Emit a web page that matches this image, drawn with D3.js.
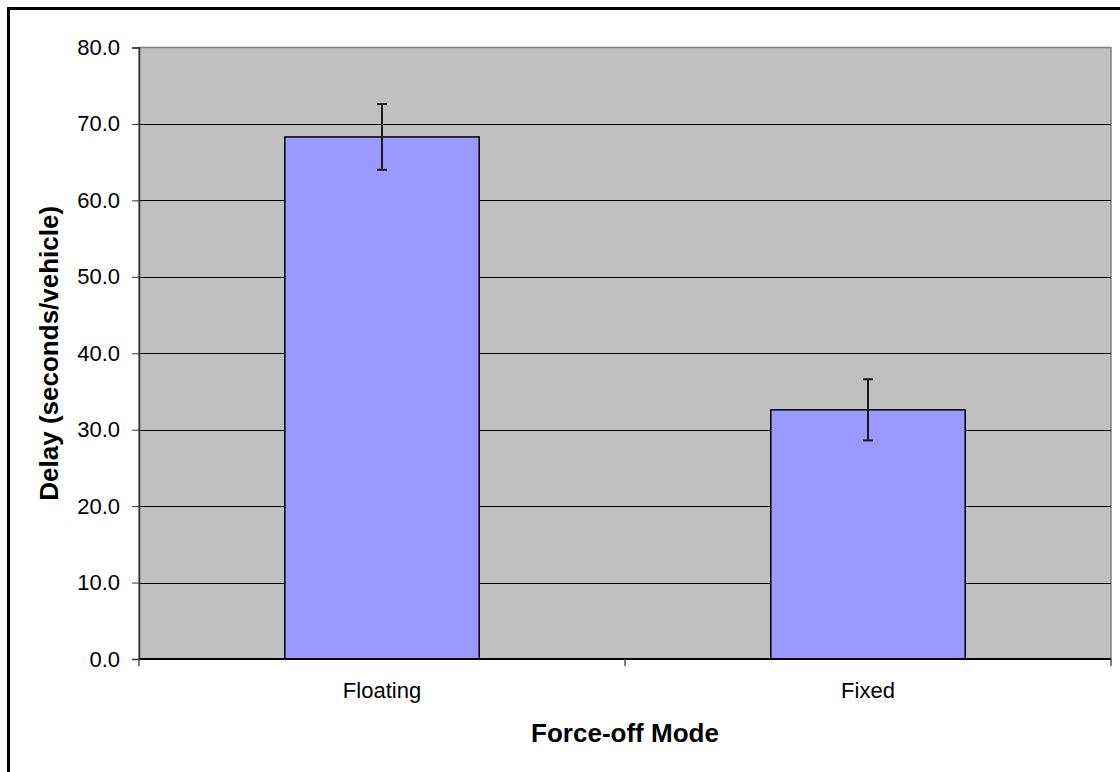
<!DOCTYPE html>
<html>
<head>
<meta charset="utf-8">
<script src="https://cdn.jsdelivr.net/npm/d3@7"></script>
<style>
  body { margin: 0; background: #fff; }
  text { font-family: "Liberation Sans", Arial, sans-serif; }
</style>
</head>
<body>
<div id="main"></div>
<script>

// chart data //
const modes = ['Floating', 'Fixed'];
const delays = [68.3, 32.6];       // seconds/vehicle
const errors = [4.3, 4.0];         // +/- error bar
const yTicks = [0, 10, 20, 30, 40, 50, 60, 70, 80];

const w = 1120;
const h = 772;

// plot area //  (plotTop, not top: window.top is taken)
const plotLeft = 139, plotRight = 1111, plotTop = 47.5, plotBottom = 659;

const svg = d3.select('#main')
            .append('svg')
            .attr('width', w)
            .attr('height', h);

// outer chart border (right and bottom fall outside the picture)
svg.append('rect')
    .attr('x', 8.5)
    .attr('y', 8.5)
    .attr('width', w + 20)
    .attr('height', h + 20)
    .attr('fill', 'none')
    .attr('stroke', '#000')
    .attr('stroke-width', 3);

const x = d3.scaleBand()
            .domain(modes)
            .range([plotLeft, plotRight])
            .paddingInner(0.6)
            .paddingOuter(0.3);

const y = d3.scaleLinear()
            .domain([0, 80])
            .range([plotBottom, plotTop]);

// grey plot background //
svg.append('rect')
    .attr('x', plotLeft)
    .attr('y', plotTop)
    .attr('width', plotRight - plotLeft)
    .attr('height', plotBottom - plotTop)
    .attr('fill', '#c0c0c0')
    .attr('stroke', '#808080')
    .attr('stroke-width', 1.5);

// gridlines
svg.append('g')
    .selectAll('line')
    .data(yTicks.filter(d => d > 0 && d < 80))
    .enter()
    .append('line')
    .attr('x1', plotLeft)
    .attr('x2', plotRight)
    .attr('y1', d => Math.round(y(d)) + 0.5)
    .attr('y2', d => Math.round(y(d)) + 0.5)
    .attr('stroke', '#000')
    .attr('stroke-width', 1);

// bars
svg.append('g')
    .selectAll('rect')
    .data(modes)
    .enter()
    .append('rect')
    .attr('x', d => x(d))
    .attr('y', (d, i) => y(delays[i]))
    .attr('width', x.bandwidth())
    .attr('height', (d, i) => y(0) - y(delays[i]))
    .attr('fill', '#9999ff')
    .attr('stroke', '#000')
    .attr('stroke-width', 1.5);

// error bars
const err = svg.append('g')
            .attr('stroke', '#1a1a1a')
            .attr('stroke-width', 2);

modes.forEach((m, i) => {
    const cx = x(m) + x.bandwidth() / 2;
    const hi = y(delays[i] + errors[i]);
    const lo = y(delays[i] - errors[i]);
    err.append('line').attr('x1', cx).attr('x2', cx).attr('y1', hi).attr('y2', lo);
    err.append('line').attr('x1', cx - 5).attr('x2', cx + 5).attr('y1', hi).attr('y2', hi);
    err.append('line').attr('x1', cx - 5).attr('x2', cx + 5).attr('y1', lo).attr('y2', lo);
});

// y axis
const yAxis = d3.axisLeft(y)
                .tickValues(yTicks)
                .tickFormat(d3.format('.1f'))
                .tickSize(7)
                .tickPadding(12);

const gy = svg.append('g')
            .attr('transform', `translate(${plotLeft},0)`)
            .call(yAxis);
gy.select('.domain').attr('stroke', '#333').attr('stroke-width', 1.5);
gy.selectAll('.tick line').attr('stroke', '#333');
gy.selectAll('.tick text')
    .attr('font-size', 22)
    .attr('fill', '#000')
    .style('font-family', '"Liberation Sans", Arial, sans-serif');

// x axis: ticks sit between categories
const xTickPos = d3.range(modes.length + 1).map(i => plotLeft + i * x.step());

svg.append('line')
    .attr('x1', plotLeft)
    .attr('x2', plotRight)
    .attr('y1', plotBottom)
    .attr('y2', plotBottom)
    .attr('stroke', '#000')
    .attr('stroke-width', 2);

svg.append('g')
    .selectAll('line')
    .data(xTickPos)
    .enter()
    .append('line')
    .attr('x1', d => d)
    .attr('x2', d => d)
    .attr('y1', plotBottom)
    .attr('y2', plotBottom + 7)
    .attr('stroke', '#555')
    .attr('stroke-width', 1.5);

svg.append('g')
    .selectAll('text')
    .data(modes)
    .enter()
    .append('text')
    .attr('x', d => x(d) + x.bandwidth() / 2)
    .attr('y', 698)
    .attr('text-anchor', 'middle')
    .attr('font-size', 22)
    .text(d => d);

// axis titles
svg.append('text')
    .attr('x', (plotLeft + plotRight) / 2)
    .attr('y', 742)
    .attr('text-anchor', 'middle')
    .attr('font-size', 26)
    .attr('font-weight', 'bold')
    .text('Force-off Mode');

svg.append('text')
    .attr('transform', `translate(58,${(plotTop + plotBottom) / 2}) rotate(-90)`)
    .attr('text-anchor', 'middle')
    .attr('font-size', 26)
    .attr('font-weight', 'bold')
    .text('Delay (seconds/vehicle)');

</script>
</body>
</html>
